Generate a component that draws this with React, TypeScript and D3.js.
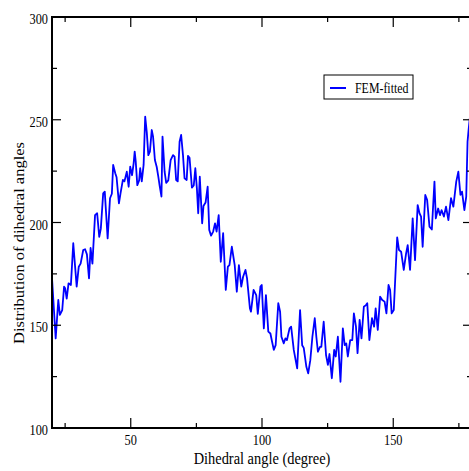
import React from "react";
import * as d3 from "d3";

const angles = [
  20.0, 21.4, 22.4, 23.0, 23.9, 24.6, 25.0, 25.6, 26.3, 27.2, 28.1, 28.8, 29.4, 30.2, 30.9, 31.9, 32.6, 33.3, 34.1, 34.7,
  35.4, 36.4, 37.2, 38.0, 38.6, 39.5, 40.1, 41.2, 42.1, 42.8, 43.3, 44.1, 44.6, 45.5, 46.1, 47.0, 47.6, 48.5, 49.2, 49.8,
  50.5, 51.1, 51.5, 51.9, 52.5, 53.2, 53.6, 54.2, 54.9, 55.5, 56.1, 56.7, 57.3, 58.0, 58.5, 59.2, 59.9, 60.5, 61.0, 61.7,
  62.1, 62.9, 63.5, 64.3, 65.2, 66.1, 66.7, 67.3, 67.9, 68.6, 69.2, 69.9, 70.5, 71.3, 71.8, 72.4, 73.3, 74.0, 74.6, 75.2,
  75.7, 76.3, 77.2, 77.7, 78.5, 79.3, 79.9, 80.6, 81.4, 82.1, 82.7, 83.5, 84.3, 85.2, 86.2, 87.0, 87.6, 88.5, 89.6, 90.4,
  91.2, 92.1, 92.8, 93.7, 94.3, 95.4, 95.8, 96.8, 97.8, 98.4, 99.4, 99.9, 100.7, 101.5, 102.4, 103.2, 103.8, 104.5, 105.2, 106.2,
  106.9, 107.4, 108.3, 108.9, 109.5, 110.5, 111.1, 112.1, 113.4, 114.5, 115.3, 115.9, 116.9, 117.6, 118.4, 119.2, 120.1, 120.7, 121.3, 122.1,
  122.6, 123.5, 124.4, 125.1, 125.7, 126.6, 127.5, 128.1, 128.9, 129.9, 130.8, 131.5, 132.1, 132.7, 133.6, 134.4, 135.0, 135.8, 136.4, 137.2,
  137.9, 138.8, 139.6, 140.1, 140.9, 141.9, 142.7, 143.3, 144.1, 145.0, 145.8, 146.7, 147.4, 148.2, 148.8, 149.4, 150.2, 151.5, 152.2, 153.0,
  154.0, 154.9, 155.5, 156.4, 157.4, 158.3, 159.3, 160.0, 160.6, 161.2, 162.2, 162.9, 163.8, 164.7, 165.7, 166.2, 167.1, 167.8, 168.4, 169.3,
  170.1, 171.0, 172.0, 172.9, 174.0, 174.8, 175.6, 176.2, 177.1, 177.8, 178.3, 178.7, 179.5,
];
const values = [
  173, 143.6, 162.3, 155, 157.4, 168.8, 168, 163, 170.4, 169.6, 189.9, 178.5, 168.8, 178.5, 180, 186.6, 187, 184.5, 172.8, 187.6,
  180, 203.6, 204.5, 193, 197, 214.2, 215, 192.3, 211.8, 214, 228, 224, 222, 209.3, 214.2, 220.7, 220, 224.7, 217.4, 227.2,
  223, 228.8, 234.5, 229.6, 218.2, 220.5, 226.4, 220, 228, 251.5, 244, 232.8, 234.5, 245, 241.8, 230.4, 227, 222.3, 218, 212.6,
  241.8, 224.7, 219.3, 220.5, 230.4, 232.8, 232, 220.7, 220, 239.3, 242.6, 232.8, 221.5, 220.7, 232.4, 231.5, 217, 218, 226.4, 216.5,
  204.5, 222.3, 199.6, 208, 209.7, 217.4, 196.4, 193.6, 195.6, 199.6, 195.6, 203.6, 180.9, 194.8, 167.2, 178.5, 179.3, 188.2, 179.3, 166.3,
  179.3, 168.8, 173.6, 176.9, 172.8, 158.2, 156.6, 167.2, 164.7, 155.5, 168.8, 169.6, 148.5, 164.7, 146.9, 146, 142.2, 138, 140.3, 160.7,
  156.6, 144.4, 141.2, 143.6, 142.8, 148.5, 149.3, 138, 129, 157.4, 140.3, 139, 129.8, 126.6, 133, 144.4, 153.4, 144.4, 137.1, 139.5,
  139.5, 151.7, 135.5, 130.7, 136, 124.2, 138, 134.8, 144.4, 122.5, 148.5, 140.3, 141.2, 134.8, 142.8, 142.8, 155.8, 149.3, 136.4, 152.6,
  143.6, 159, 159.8, 160.7, 142.8, 153.4, 149.3, 158.2, 147.7, 163.9, 162.3, 161.5, 155.8, 169.6, 167.2, 155.8, 157.4, 192.7, 186.6, 185.8,
  176.9, 185, 189, 176.9, 202, 181.7, 208.5, 204.5, 202.9, 188.2, 213.4, 211, 198, 196.6, 219.9, 202, 206.8, 203.6, 206, 202.9,
  207.7, 201.2, 211.8, 207.7, 219.9, 224.7, 213.4, 215, 206, 212.6, 239.3, 245, 255,
];

const xMajorTicks = [50, 100, 150];
const xMinorTicks = [25, 75, 125, 175];
const yMajorTicks = [100, 150, 200, 250, 300];
const yMinorTicks = [125, 175, 225, 275];
const seriesName = "FEM-fitted";
const xTitle = "Dihedral angle (degree)";
const yTitle = "Distribution of dihedral angles";

const W = 469;
const H = 471;
const L = 52;
const R = 472;
const T = 17;
const B = 428;
const FONT = "'Liberation Serif', 'Times New Roman', serif";

function SqText({ x, y, anchor, size, sx, children }: any) {
  return (
    <text
      transform={`translate(${x},${y}) scale(${sx},1)`}
      textAnchor={anchor}
      fontSize={size}
      fontFamily={FONT}
      fill="#000"
    >
      {children}
    </text>
  );
}

export default function App() {
  const x = d3.scaleLinear().domain([20, 180]).range([L, R]);
  const y = d3.scaleLinear().domain([100, 300]).range([B, T]);
  const pts = angles.map((a, i) => [a, values[i]] as [number, number]);
  const line = d3
    .line<[number, number]>()
    .x((d) => x(d[0]))
    .y((d) => y(d[1]))(pts);

  const majLen = 10;
  const minLen = 5;

  return (
    <svg
      width={W}
      height={H}
      style={{ position: "absolute", left: 0, top: 0, background: "#fff" }}
    >
      <defs>
        <clipPath id="plotclip">
          <rect x={L} y={T} width={R - L} height={B - T} />
        </clipPath>
      </defs>
      <rect x={0} y={0} width={W} height={H} fill="#fff" />
      <path
        d={line || ""}
        fill="none"
        stroke="#0000ff"
        strokeWidth={1.8}
        strokeLinejoin="round"
        clipPath="url(#plotclip)"
      />
      {/* frame */}
      <rect x={L} y={T} width={R - L} height={B - T} fill="none" stroke="#000" strokeWidth={2} />
      {/* x ticks */}
      {xMajorTicks.map((t) => (
        <g key={"xM" + t}>
          <line x1={x(t)} x2={x(t)} y1={B} y2={B - majLen} stroke="#000" strokeWidth={1.2} />
          <line x1={x(t)} x2={x(t)} y1={T} y2={T + majLen} stroke="#000" strokeWidth={1.2} />
          <SqText x={x(t)} y={445} anchor="middle" size={14} sx={0.88}>
            {t}
          </SqText>
        </g>
      ))}
      {xMinorTicks.map((t) => (
        <g key={"xm" + t}>
          <line x1={x(t)} x2={x(t)} y1={B} y2={B - minLen} stroke="#000" strokeWidth={1.2} />
          <line x1={x(t)} x2={x(t)} y1={T} y2={T + minLen} stroke="#000" strokeWidth={1.2} />
        </g>
      ))}
      {/* y ticks */}
      {yMajorTicks.map((t) => (
        <g key={"yM" + t}>
          <line x1={L} x2={L + majLen - 1} y1={y(t)} y2={y(t)} stroke="#000" strokeWidth={1.2} />
          <line x1={R} x2={R - majLen + 1} y1={y(t)} y2={y(t)} stroke="#000" strokeWidth={1.2} />
          <SqText x={48} y={y(t) + 7} anchor="end" size={14} sx={0.88}>
            {t}
          </SqText>
        </g>
      ))}
      {yMinorTicks.map((t) => (
        <g key={"ym" + t}>
          <line x1={L} x2={L + minLen} y1={y(t)} y2={y(t)} stroke="#000" strokeWidth={1.2} />
          <line x1={R} x2={R - minLen} y1={y(t)} y2={y(t)} stroke="#000" strokeWidth={1.2} />
        </g>
      ))}
      {/* axis titles */}
      <SqText x={(L + R) / 2} y={464} anchor="middle" size={16} sx={0.9}>
        {xTitle}
      </SqText>
      <text
        transform={`translate(24,${243}) rotate(-90) scale(1,0.9)`}
        textAnchor="middle"
        fontSize={16.5}
        fontFamily={FONT}
        fill="#000"
      >
        {yTitle}
      </text>
      {/* legend */}
      <rect x={324} y={75} width={89} height={24} fill="#fff" stroke="#000" strokeWidth={1} />
      <line x1={330} x2={346} y1={88} y2={88} stroke="#0000ff" strokeWidth={2} />
      <SqText x={355} y={93} anchor="start" size={14} sx={0.85}>
        {seriesName}
      </SqText>
    </svg>
  );
}
